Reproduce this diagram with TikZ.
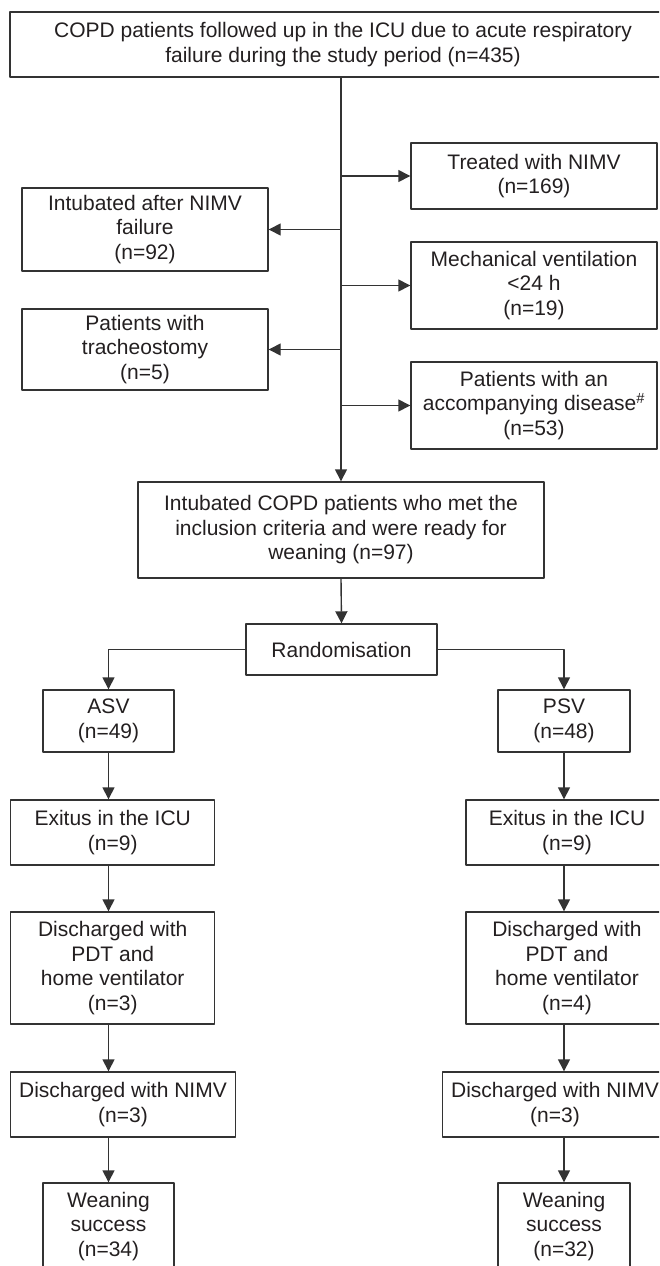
\documentclass[tikz,border=0pt]{standalone}
\usepackage{fontspec}
\setmainfont{Liberation Sans}
\usetikzlibrary{arrows.meta}
\providecommand{\Ink}{231F20}
\providecommand{\Rule}{333333}
\newcommand{\Unit}{1pt}
\newcommand{\Edge}{1.4pt}
\newcommand{\Lead}{24.5pt}
\definecolor{ink}{HTML}{\Ink}
\definecolor{rule}{HTML}{\Rule}

\tikzset{
  box/.style 2 args={draw=rule, line width=\Edge, text=ink, align=center,
    inner sep=0pt, minimum width=#1pt, minimum height=#2pt,
    font=\fontsize{21}{\Lead}\selectfont},
  flow/.style={draw=rule, line width=1.4pt, -{Triangle[length=12pt,width=12pt]}},
}

\begin{document}
\begin{tikzpicture}[x=\Unit,y=-\Unit, line join=round]

  \useasboundingbox (0,0) rectangle (659,1266);
  \clip (0,0) rectangle (659,1266);

  % ---- screening ----------------------------------------------------------
  \node[box={666}{65}] (copd) at (343,44.5)
    {COPD patients followed up in the ICU due to acute respiratory\\failure during the study period (n=435)};

  % ---- exclusions ---------------------------------------------------------
  \node[box={246}{66}] (nimv)  at (534,176)   {Treated with NIMV\\(n=169)};
  \node[box={246}{83}] (intub) at (145,229.5) {Intubated after NIMV\\failure\\(n=92)};
  \node[box={246}{87}] (mv)    at (534,285.5) {Mechanical ventilation\\<24 h\\(n=19)};
  \node[box={246}{81}] (trach) at (145,349.5) {Patients with\\tracheostomy\\(n=5)};
  \node[box={246}{87}] (dis)   at (534,405.5) {Patients with an\\accompanying disease\textsuperscript{\#}\\(n=53)};

  % ---- enrolled -----------------------------------------------------------
  \node[box={406}{96}] (incl) at (341,530)
    {Intubated COPD patients who met the\\inclusion criteria and were ready for\\weaning (n=97)};
  \node[box={191}{51}] (rand) at (341.5,649.5) {Randomisation};

  % ---- the two arms -------------------------------------------------------
  \node[box={131}{62}]  (asv)  at (108.5,721)  {ASV\\(n=49)};
  \node[box={132}{62}]  (psv)  at (564,721)    {PSV\\(n=48)};
  \node[box={204}{65}]  (exA)  at (112.7,832.5) {Exitus in the ICU\\(n=9)};
  \node[box={202}{65}]  (exP)  at (567,832.5)  {Exitus in the ICU\\(n=9)};
  \node[box={204}{112}] (pdtA) at (112.7,968)  {Discharged with\\PDT and\\home ventilator\\(n=3)};
  \node[box={202}{112}] (pdtP) at (567,968)    {Discharged with\\PDT and\\home ventilator\\(n=4)};
  \node[box={225}{65}]  (dnA)  at (123,1104.5) {Discharged with NIMV\\(n=3)};
  \node[box={225}{65}]  (dnP)  at (555,1104.5) {Discharged with NIMV\\(n=3)};
  \node[box={131}{87}]  (wnA)  at (108.5,1226.5) {Weaning\\success\\(n=34)};
  \node[box={132}{87}]  (wnP)  at (564,1226.5) {Weaning\\success\\(n=32)};

  % ---- trunk and branches -------------------------------------------------
  \draw[flow] (copd.south -| incl.north) -- (incl.north);
  \foreach \n in {nimv,mv,dis}
    \draw[flow] (incl.north |- \n.west) -- (\n.west);
  \foreach \n in {intub,trach}
    \draw[flow] (incl.north |- \n.east) -- (\n.east);
  \draw[flow] (incl.south) -- (rand.north);
  \draw[flow] (rand.west) -| (asv.north);
  \draw[flow] (rand.east) -| (psv.north);

  % ---- down each arm ------------------------------------------------------
  \foreach \a/\b in {asv/exA,exA/pdtA,pdtA/dnA,dnA/wnA}
    \draw[flow] (asv.south |- \a.south) -- (asv.south |- \b.north);
  \foreach \a/\b in {psv/exP,exP/pdtP,pdtP/dnP,dnP/wnP}
    \draw[flow] (psv.south |- \a.south) -- (psv.south |- \b.north);

\end{tikzpicture}
\end{document}
